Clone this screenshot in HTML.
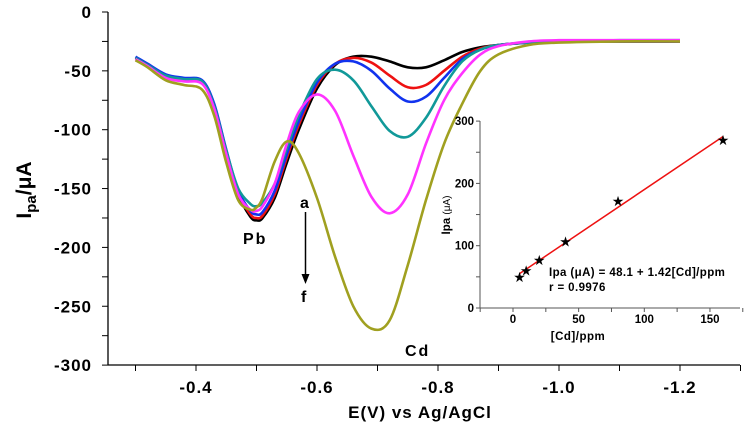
<!DOCTYPE html>
<html><head><meta charset="utf-8"><style>
html,body{margin:0;padding:0;background:#fff;}
svg{display:block;font-family:"Liberation Sans",Arial,sans-serif;font-weight:bold;}
</style></head><body>
<svg id="c" width="754" height="431" viewBox="0 0 754 431">
<g id="main"></g>
<g id="inset"></g>
</svg>
<script>
const potentials=[-0.30,-0.32,-0.35,-0.38,-0.41,-0.43,-0.45,-0.47,-0.49,-0.50,-0.51,-0.53,-0.55,-0.57,-0.60,-0.63,-0.66,-0.69,-0.72,-0.75,-0.78,-0.81,-0.84,-0.87,-0.90,-0.95,-1.00,-1.10,-1.20];
const curveA=[-39,-45,-54,-57,-59,-79,-118,-155,-174,-177,-175,-158,-128,-100,-65,-45,-38,-38,-42,-47,-47,-41,-34,-30,-28,-26,-25,-25,-25];
const curveB=[-39,-45,-54,-57,-59,-79,-118,-154,-172,-175,-173,-155,-124,-96,-62,-44,-39,-43,-54,-64,-62,-50,-38,-31,-28,-26,-25,-25,-25];
const curveC=[-38,-44,-53,-56,-58,-78,-117,-152,-169,-172,-170,-152,-121,-93,-60,-44,-42,-50,-65,-76,-72,-56,-40,-32,-28,-26,-25,-25,-25];
const curveD=[-39,-45,-54,-57,-59,-80,-118,-150,-163,-165,-162,-146,-116,-88,-57,-49,-58,-80,-101,-106,-90,-63,-42,-32,-28,-26,-25,-24,-24];
const curveE=[-40,-46,-56,-59,-61,-82,-121,-155,-168,-169,-165,-146,-112,-85,-70,-84,-122,-157,-171,-155,-112,-75,-52,-36,-29,-25,-24,-24,-24];
const curveF=[-41,-47,-58,-62,-66,-88,-128,-160,-168,-166,-158,-127,-110,-120,-158,-208,-250,-269,-262,-215,-160,-112,-78,-50,-36,-28,-26,-25,-25];
const curveColors=["#000000","#ee1111","#1133ee","#119999","#ff33ff","#a0a020"];
const xTicks=[-0.4,-0.6,-0.8,-1.0,-1.2];
const xTickLabels=["-0.4","-0.6","-0.8","-1.0","-1.2"];
const yTicks=[0,-50,-100,-150,-200,-250,-300];
const concentrations=[5,10,20,40,80,160];
const peakCurrents=[50,60,77,107,172,270];
const fitIntercept=48.1, fitSlope=1.42;
const insetXTicks=[0,50,100,150];
const insetYTicks=[0,100,200,300];

const NS="http://www.w3.org/2000/svg";
function mk(tag,attrs,parent,text){const e=document.createElementNS(NS,tag);for(const k in attrs)e.setAttribute(k,attrs[k]);if(text!==undefined)e.textContent=text;parent.appendChild(e);return e;}
const main=document.getElementById('main'), inset=document.getElementById('inset');
const X=v=>135.5+(-v-0.3)*605;
const Y=v=>12-v*1.177;
let e;
e=mk('line',{x1:108,y1:12,x2:108,y2:365,stroke:'#000','stroke-width':1.3},main);


e=mk('line',{x1:108,y1:365,x2:740,y2:365,stroke:'#000','stroke-width':1.3},main);


for(let v=-0.3;v>=-1.301;v-=0.1){mk('line',{x1:X(v),y1:365,x2:X(v),y2:371,stroke:'#000','stroke-width':1},main);}
xTicks.forEach((v,i)=>{e=mk('text',{x:X(v),y:393,'text-anchor':'middle','font-size':17,'letter-spacing':1},main,xTickLabels[i]);

});
for(let v=0;v>=-300;v-=25){mk('line',{x1:102,y1:Y(v),x2:108,y2:Y(v),stroke:'#000','stroke-width':1},main);}
yTicks.forEach(v=>{e=mk('text',{x:92,y:Y(v)+6,'text-anchor':'end','font-size':17,'letter-spacing':1},main,String(v));

});
function pathFor(xs,ys){const p=xs.map((x,i)=>[X(x),Y(ys[i])]);let d='M'+p[0][0].toFixed(1)+','+p[0][1].toFixed(1);
for(let i=0;i<p.length-1;i++){const p0=p[i-1]||p[i],p1=p[i],p2=p[i+1],p3=p[i+2]||p2;
d+=' C'+(p1[0]+(p2[0]-p0[0])/6).toFixed(1)+','+(p1[1]+(p2[1]-p0[1])/6).toFixed(1)+' '+(p2[0]-(p3[0]-p1[0])/6).toFixed(1)+','+(p2[1]-(p3[1]-p1[1])/6).toFixed(1)+' '+p2[0].toFixed(1)+','+p2[1].toFixed(1);}
return d;}
[curveA,curveB,curveC,curveD,curveE,curveF].forEach((c,i)=>{e=mk('path',{d:pathFor(potentials,c),fill:'none',stroke:curveColors[i],'stroke-width':2.6},main);

});
e=mk('text',{x:243,y:244,'font-size':16,'letter-spacing':2},main,'Pb');


e=mk('text',{x:405,y:356,'font-size':16,'letter-spacing':2},main,'Cd');


e=mk('text',{x:300,y:208,'font-size':16},main,'a');


e=mk('text',{x:301,y:302,'font-size':16},main,'f');


e=mk('line',{x1:305.5,y1:212,x2:305.5,y2:276,stroke:'#000','stroke-width':1.5},main);


mk('polygon',{points:'301.5,274 309.5,274 305.5,284',fill:'#000'},main);
e=mk('text',{x:420,y:418,'text-anchor':'middle','font-size':17,'letter-spacing':1},main,'E(V) vs Ag/AgCl');


e=mk('text',{transform:'translate(31,190) rotate(-90)','text-anchor':'middle','font-size':21},main);


e.innerHTML='I<tspan font-size="15" dy="5">pa</tspan><tspan dy="-5">/μA</tspan>';
const IX=v=>513+v*1.313, IY=v=>308-v*0.623;
e=mk('line',{x1:480,y1:121,x2:480,y2:308,stroke:'#555','stroke-width':1},inset);


e=mk('line',{x1:480,y1:308,x2:740,y2:308,stroke:'#555','stroke-width':1},inset);


for(let v=0;v<=300;v+=50)mk('line',{x1:476,y1:IY(v),x2:480,y2:IY(v),stroke:'#555','stroke-width':1},inset);
for(let v=-25;v<=175;v+=25)if(IX(v)>480)mk('line',{x1:IX(v),y1:308,x2:IX(v),y2:312,stroke:'#555','stroke-width':1},inset);
insetYTicks.forEach(v=>{e=mk('text',{x:474,y:IY(v)+4,'text-anchor':'end','font-size':11.5},inset,String(v));

});
insetXTicks.forEach(v=>{e=mk('text',{x:IX(v),y:323,'text-anchor':'middle','font-size':11.5},inset,String(v));

});
e=mk('text',{x:578,y:340,'text-anchor':'middle','font-size':11.5,'letter-spacing':0.5},inset,'[Cd]/ppm');


e=mk('text',{transform:'translate(450,215) rotate(-90)','text-anchor':'middle','font-size':11.5},inset);


e.innerHTML='Ipa <tspan font-weight="normal" font-size="10">(μA)</tspan>';
const x0=concentrations[0], x1=concentrations[concentrations.length-1];
e=mk('line',{x1:IX(x0),y1:IY(fitIntercept+fitSlope*x0),x2:IX(x1),y2:IY(fitIntercept+fitSlope*x1),stroke:'#ee1111','stroke-width':1.5},inset);


concentrations.forEach((c,i)=>{e=mk('text',{x:IX(c),y:IY(peakCurrents[i])+5,'text-anchor':'middle','font-size':14,'font-weight':'normal',fill:'#000'},inset,'★');

});
e=mk('text',{x:549,y:276,'font-size':11.5,'letter-spacing':0.4},inset,'Ipa (μA) = 48.1 + 1.42[Cd]/ppm');


e=mk('text',{x:549,y:291,'font-size':11.5,'letter-spacing':0.4},inset,'r = 0.9976');


</script>
</body></html>
